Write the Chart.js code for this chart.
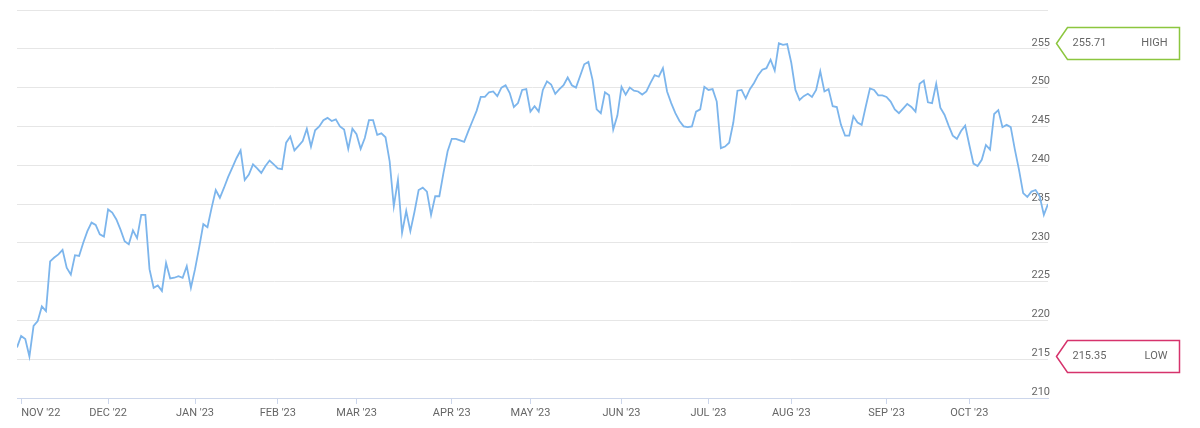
<!DOCTYPE html>
<html>
<head>
<meta charset="utf-8">
<title>Price chart</title>
<script src="https://cdn.jsdelivr.net/npm/chart.js@4/dist/chart.umd.min.js"></script>
<style>
    html, body { margin: 0; padding: 0; background: #fff; }
    #wrap { width: 1200px; height: 428px; }
</style>
</head>
<body>
<div id="wrap"><canvas id="priceChart" width="1200" height="428"></canvas></div>
<script>
(function() {
    // Daily closes, one per trading day (Oct 31 '22 -> Oct 27 '23)
    var closes = [
        216.5, 218.0, 217.6, 215.35, 219.3, 219.9, 221.8, 221.2, 227.6, 228.1,
        228.5, 229.1, 226.8, 225.9, 228.4, 228.3, 230.0, 231.5, 232.6, 232.3,
        231.1, 230.8, 234.3, 233.9, 233.0, 231.7, 230.2, 229.8, 231.6, 230.6,
        233.6, 233.6, 226.6, 224.2, 224.5, 223.8, 227.4, 225.4, 225.5, 225.7,
        225.5, 227.0, 224.2, 226.6, 229.4, 232.4, 232.0, 234.5, 236.8, 235.8,
        237.1, 238.5, 239.7, 240.9, 241.9, 238.1, 238.8, 240.1, 239.6, 239.0,
        239.9, 240.6, 240.1, 239.6, 239.5, 242.9, 243.7, 241.9, 242.5, 243.1,
        244.7, 242.4, 244.5, 245.0, 245.8, 246.1, 245.7, 245.9, 245.0, 244.6,
        242.1, 244.7, 244.0, 242.1, 243.5, 245.8, 245.8, 243.9, 244.1, 243.6,
        240.5, 234.7, 238.1, 231.3, 234.1, 231.5, 234.0, 236.8, 237.1, 236.6,
        233.6, 236.0, 236.0, 239.0, 241.8, 243.4, 243.4, 243.2, 243.0, 244.4,
        245.7, 247.0, 248.8, 248.8, 249.4, 249.5, 248.9, 250.0, 250.3, 249.3,
        247.5, 248.0, 249.7, 249.8, 246.9, 247.6, 246.9, 249.7, 250.8, 250.4,
        249.2, 249.8, 250.3, 251.3, 250.3, 250.0, 251.5, 253.0, 253.3, 251.0,
        247.2, 246.7, 249.4, 249.0, 244.6, 246.4, 250.1, 249.1, 250.0, 249.6,
        249.5, 249.1, 249.5, 250.6, 251.6, 251.4, 252.5, 249.5, 248.0, 246.7,
        245.7, 245.0, 244.9, 245.0, 246.9, 247.2, 250.1, 249.7, 249.8, 248.2,
        242.2, 242.4, 242.9, 245.5, 249.6, 249.7, 248.6, 249.8, 250.6, 251.6,
        252.3, 252.5, 253.6, 252.2, 255.71, 255.5, 255.6, 253.2, 249.7, 248.4,
        248.9, 249.2, 248.8, 249.7, 252.1, 249.5, 249.8, 247.6, 247.5, 245.2,
        243.8, 243.8, 246.3, 245.5, 245.2, 247.6, 249.9, 249.7, 249.0, 249.0,
        248.8, 248.2, 247.2, 246.7, 247.3, 247.9, 247.5, 246.9, 250.5, 250.9,
        248.1, 248.0, 250.5, 247.4, 246.5, 245.1, 243.8, 243.4, 244.4, 245.1,
        242.6, 240.2, 239.9, 240.7, 242.6, 242.0, 246.6, 247.1, 244.9, 245.2,
        244.9, 242.0, 239.4, 236.4, 235.9, 236.6, 236.8, 236.0, 233.6, 235.0
    ];

    // First trading day of each month (index into closes) and its label
    var monthIdx = [1, 22, 43, 63, 82, 105, 124, 146, 167, 187, 210, 230];
    var monthLabels = ["NOV '22", "DEC '22", "JAN '23", "FEB '23", "MAR '23", "APR '23",
                       "MAY '23", "JUN '23", "JUL '23", "AUG '23", "SEP '23", "OCT '23"];

    var yMin = 210, yMax = 260, yStep = 5;

    var badgeNames = ['HIGH', 'LOW'];
    var badgeColors = ['#8cc63f', '#d6336c'];

    var textColor = '#666666';
    Chart.defaults.font.family = 'Roboto';
    Chart.defaults.font.size = 11;
    Chart.defaults.color = textColor;

    // HIGH / LOW flags to the right of the plot
    var badgePlugin = {
        id: 'badges',
        afterDraw: function(chart) {
            var ctx = chart.ctx;
            var yScale = chart.scales.y;
            var area = chart.chartArea;
            var vals = [Math.max.apply(null, closes), Math.min.apply(null, closes)];

            for (var i = 0; i < vals.length; i++) {
                var py = Math.round(yScale.getPixelForValue(vals[i])) + 0.5;
                var tip = area.right + 8.5;
                var left = tip + 11;
                var right = 1179.5;
                var h = 16;

                ctx.save();
                ctx.beginPath();
                ctx.moveTo(tip, py);
                ctx.lineTo(left, py - h);
                ctx.lineTo(right, py - h);
                ctx.lineTo(right, py + h);
                ctx.lineTo(left, py + h);
                ctx.closePath();
                ctx.fillStyle = '#ffffff';
                ctx.fill();
                ctx.lineWidth = 1.5;
                ctx.strokeStyle = badgeColors[i];
                ctx.stroke();

                ctx.fillStyle = textColor;
                ctx.font = '11px Roboto';
                ctx.textBaseline = 'middle';
                ctx.textAlign = 'left';
                ctx.fillText(vals[i].toFixed(2), left + 5, py);
                ctx.textAlign = 'right';
                ctx.fillText(badgeNames[i], right - 12, py);
                ctx.restore();
            }
        }
    };

    var ctx = document.getElementById('priceChart');
    new Chart(ctx, {
        type: 'line',
        data: {
            datasets: [{
                data: closes.map(function(v, i) { return { x: i, y: v }; }),
                borderColor: '#7cb5ec',
                borderWidth: 1.8,
                pointRadius: 0,
                pointHoverRadius: 0,
                fill: false,
                tension: 0
            }]
        },
        options: {
            responsive: false,
            animation: false,
            devicePixelRatio: 1,
            layout: { padding: { left: 17, right: 148, top: 10, bottom: 0 } },
            plugins: {
                legend: { display: false },
                tooltip: { enabled: false }
            },
            scales: {
                x: {
                    type: 'linear',
                    min: 0,
                    max: closes.length - 1,
                    afterBuildTicks: function(scale) {
                        // month starts plus an unlabeled end tick so 'inner' keeps OCT centred
                        scale.ticks = monthIdx.concat([closes.length - 1]).map(function(v) {
                            return { value: v };
                        });
                    },
                    afterFit: function(scale) { scale.height = 30; },
                    border: { color: '#ccd6eb', width: 1 },
                    grid: {
                        drawOnChartArea: false,
                        tickLength: 6,
                        color: function(c) {
                            return c.index === monthIdx.length ? 'rgba(0,0,0,0)' : '#ccd6eb';
                        }
                    },
                    ticks: {
                        autoSkip: false,
                        maxRotation: 0,
                        align: 'inner',
                        padding: 3,
                        color: textColor,
                        callback: function(value) {
                            var k = monthIdx.indexOf(value);
                            return k < 0 ? '' : monthLabels[k];
                        }
                    }
                },
                y: {
                    position: 'right',
                    min: yMin,
                    max: yMax,
                    border: { display: false },
                    grid: { color: '#e6e6e6', drawTicks: false },
                    ticks: {
                        stepSize: yStep,
                        mirror: true,
                        padding: 2,
                        labelOffset: -6,
                        color: textColor,
                        callback: function(v) { return v === yMax ? '' : v; }
                    }
                }
            }
        },
        plugins: [badgePlugin]
    });
})();
</script>
</body>
</html>
